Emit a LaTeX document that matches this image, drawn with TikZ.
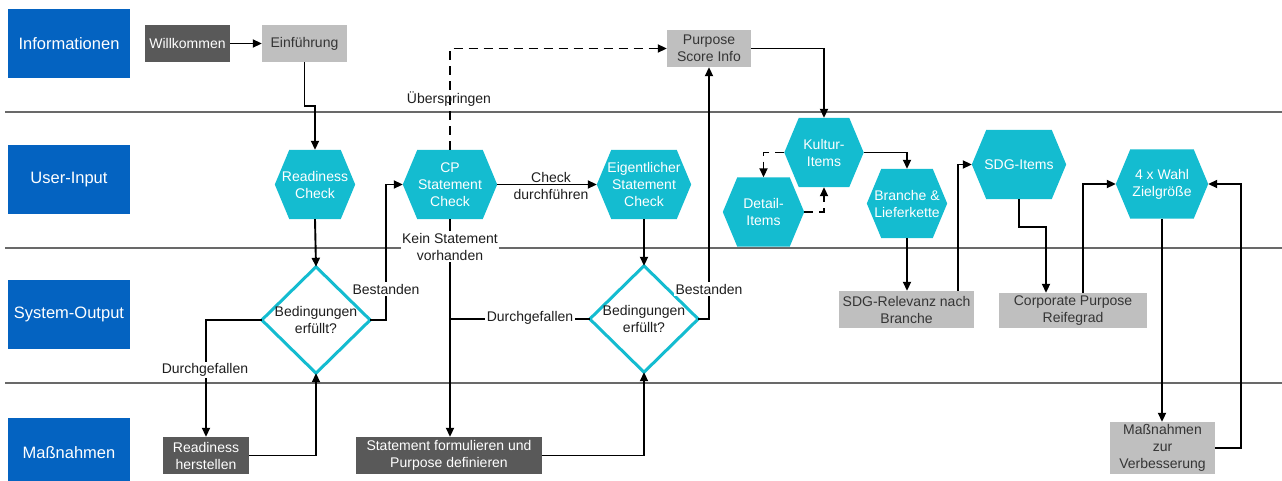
\documentclass[tikz,border=0pt]{standalone}
\usepackage{fontspec}
\setmainfont{Liberation Sans}
\usetikzlibrary{arrows.meta,calc}

\definecolor{laneblue}{RGB}{4,99,193}
\definecolor{hexcyan}{RGB}{20,188,208}
\definecolor{darkbox}{RGB}{89,89,89}
\definecolor{lightbox}{RGB}{191,191,191}
\definecolor{laneline}{RGB}{105,105,105}
\definecolor{ink}{RGB}{30,30,30}

\pgfdeclarelayer{lanes}
\pgfdeclarelayer{background}
\pgfsetlayers{lanes,background,main}

\tikzset{
  txt/.style={font=\fontsize{14}{17}\selectfont, align=center, inner sep=0pt},
  lanebox/.style={fill=laneblue, text=white, font=\fontsize{16.5}{19}\selectfont,
    minimum width=122pt, minimum height=69pt, inner sep=0pt},
  darkrect/.style={txt, fill=darkbox, text=white, minimum height=37pt},
  lightrect/.style={txt, fill=lightbox, text=ink!90, minimum height=37pt},
  hexnode/.style={txt, text=white, minimum height=69pt},
  dianode/.style={txt, text=ink, minimum width=108pt, minimum height=106pt},
  lbl/.style={txt, text=ink, fill=white, inner sep=1.5pt},
  lblclear/.style={txt, text=ink},
  arr/.style={line width=1.9pt, draw=black, -{Triangle[length=9pt,width=8pt]}},
  plain/.style={line width=1.9pt, draw=black},
  skip/.style={arr, dash pattern=on 9pt off 6pt},
}

\begin{document}
\begin{tikzpicture}[x=1pt,y=-1pt]
\useasboundingbox (0,0) rectangle (1282,481);

% swimlane separators
\begin{pgfonlayer}{lanes}
  \foreach \yy in {112,248,383}
    \draw[laneline, line width=2pt] (5,\yy) -- (1282,\yy);
\end{pgfonlayer}

% lane headers
\node[lanebox] (lInfo) at (69,43.5) {Informationen};
\node[lanebox] (lUser) at (69,179.5) {User-Input};
\node[lanebox] (lSys)  at (69,314.5) {System-Output};
\node[lanebox] (lMass) at (69,452.5) {Maßnahmen};

% information boxes
\node[darkrect, minimum width=85pt]  (willk) at (187.5,43.5) {Willkommen};
\node[lightrect, minimum width=85pt] (einf)  at (304.5,43.5) {Einführung};
\node[lightrect, minimum width=84pt] (psi)   at (709,48.5) {Purpose\\Score Info};

% user input steps
\node[hexnode, minimum width=80pt] (rc)   at (315,184.5) {Readiness\\Check};
\node[hexnode, minimum width=94pt] (cp)   at (450,184.5) {CP\\Statement\\Check};
\node[hexnode, minimum width=94pt] (es)   at (644,184.5) {Eigentlicher\\Statement\\Check};
\node[hexnode, minimum width=79pt] (ku)   at (824,152.5) {Kultur-\\Items};
\node[hexnode, minimum width=81pt] (de)   at (763.5,212) {Detail-\\Items};
\node[hexnode, minimum width=80pt] (br)   at (907,203.5) {Branche \&\\Lieferkette};
\node[hexnode, minimum width=94pt] (sdg)  at (1019,164.5) {SDG-Items};
\node[hexnode, minimum width=92pt] (wahl) at (1162,184) {4 x Wahl\\Zielgröße};

% decisions
\node[dianode] (d1) at (316,320) {Bedingungen\\erfüllt?};
\node[dianode] (d2) at (644,319) {Bedingungen\\erfüllt?};

% system output
\node[lightrect, minimum width=135pt] (sdgr) at (906.5,309.5) {SDG-Relevanz nach\\Branche};
\node[lightrect, minimum width=148pt, minimum height=35pt] (cpr) at (1073,310.5) {Corporate Purpose\\Reifegrad};

% measures
\node[darkrect, minimum width=86pt]  (rh)  at (206,455.5) {Readiness\\herstellen};
\node[darkrect, minimum width=186pt] (sf)  at (449,455.5) {Statement formulieren und\\Purpose definieren};
\node[lightrect, minimum width=105pt, minimum height=52pt] (mzv) at (1162.5,448) {Maßnahmen\\zur\\Verbesserung};

% hexagon and diamond outlines
\begin{pgfonlayer}{background}
  \foreach \n in {rc,cp,es,ku,de,br,sdg,wahl}
    \fill[hexcyan] (\n.west) -- ([xshift=14.5pt]\n.north west) -- ([xshift=-14.5pt]\n.north east)
      -- (\n.east) -- ([xshift=-14.5pt]\n.south east) -- ([xshift=14.5pt]\n.south west) -- cycle;
  \foreach \n in {d1,d2}
    \draw[hexcyan, line width=3pt, fill=white, line join=miter]
      (\n.north) -- (\n.east) -- (\n.south) -- (\n.west) -- cycle;
\end{pgfonlayer}

% connectors
\draw[arr] (willk) -- (einf);
\draw[arr] (einf.south) -- ++(0,44) -| (rc.north);
\draw[arr] (rc.south) -- (d1.north);
\draw[arr] (d1.east) -- ++(16,0) |- (cp.west);
\draw[arr] (d1.west) -| (rh.north);
\draw[arr] (rh.east) -| (d1.south);
\draw[arr] (cp.south) -- (cp.south |- sf.north);
\draw[plain] (d2.west) -- (d2.west -| cp.south);
\draw[arr] (cp.east) -- (es.west);
\draw[arr] (es.south) -- (d2.north);
\draw[arr] (sf.east) -| (d2.south);
\draw[arr] (d2.east) -| (psi.south);
\draw[skip] (cp.north) |- (psi.west);
\draw[arr] (psi.east) -| (ku.north);
\draw[skip] (ku.west) -| (de.north);
\draw[skip] (de.east) -| (ku.south);
\draw[arr] (ku.east) -| (br.north);
\draw[arr] (br.south) -- (br.south |- sdgr.north);
\draw[arr] ([xshift=51.5pt]sdgr.north) |- (sdg.west);
\draw[arr] (sdg.south) -- ++(0,28) -| ([xshift=-27pt]cpr.north);
\draw[arr] ([xshift=10pt]cpr.north) |- (wahl.west);
\draw[arr] (wahl.south) -- (wahl.south |- mzv.north);
\draw[arr] (mzv.east) -- ++(26,0) |- (wahl.east);

% connector labels
\node[lbl] (bst1) at (386,289) {Bestanden};
\node[lbl] (dg1)  at (205,370) {Durchgefallen};
\node[lbl] (kein) at (450,246.5) {Kein Statement\\vorhanden};
\node[lbl] (dg2)  at (530,318) {Durchgefallen};
\node[lbl] (bst2) at (709,289) {Bestanden};
\node[lblclear] (chk) at (551,185.5) {Check\\durchführen};
\node[lblclear] (ubs) at (449,99) {Überspringen};

\end{tikzpicture}
\end{document}
